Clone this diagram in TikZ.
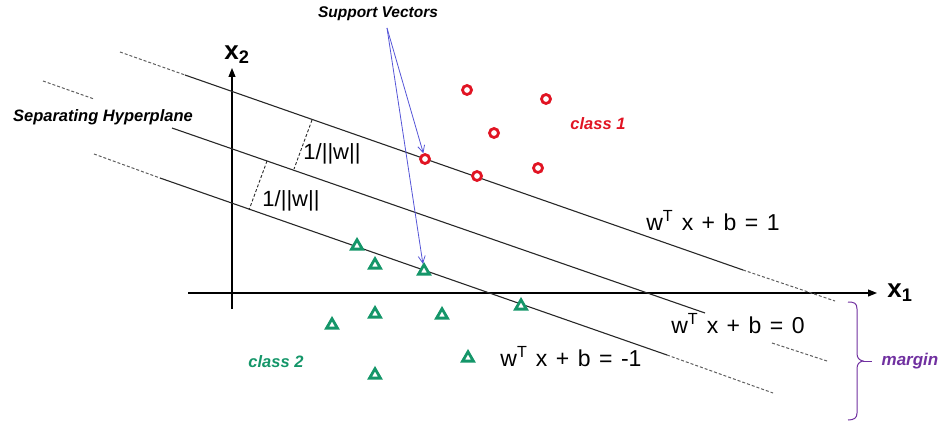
\documentclass[tikz,border=0pt]{standalone}
\usepackage{fontspec}
\setmainfont{Liberation Sans}
\usetikzlibrary{arrows.meta, positioning, shapes.geometric}
\definecolor{svmRed}{RGB}{225,20,35}
\definecolor{svmGreen}{RGB}{20,150,105}
\definecolor{svmBlue}{RGB}{85,85,215}
\definecolor{svmPurple}{RGB}{112,48,160}
\definecolor{lnGray}{RGB}{40,40,40}
\newcommand{\eqSpacing}{\spaceskip 8.5pt\relax}
\tikzset{
  redPt/.style={circle, draw=svmRed, line width=2.8pt, fill=white,
    minimum size=9pt, inner sep=0pt},
  greenPt/.style={regular polygon, regular polygon sides=3, draw=svmGreen,
    line width=2.8pt, fill=white, minimum size=12.5pt, inner sep=0pt},
  plane/.style={draw=lnGray, line width=1.1pt},
  planeDash/.style={draw=lnGray!75, line width=1.0pt, dash pattern=on 3pt off 2pt},
  gapDash/.style={draw=lnGray, line width=0.9pt, dash pattern=on 3pt off 2pt},
  axisArr/.style={-{Triangle[length=9pt,width=7pt]}, line width=1.1pt, draw=black},
  svArr/.style={-{Straight Barb[length=7pt,width=7pt]}, line width=0.8pt, draw=svmBlue},
  braceLn/.style={draw=svmPurple, line width=1.0pt},
  tlabel/.style={font=\fontsize{16.5}{18}\selectfont\bfseries\itshape, inner sep=1pt},
  eqlabel/.style={font=\fontsize{23}{25}\selectfont\eqSpacing, inner sep=1pt},
  wlabel/.style={font=\fontsize{22}{24}\selectfont, inner sep=1pt},
  axlabel/.style={font=\fontsize{26}{28}\selectfont\bfseries, inner sep=1pt},
}

\begin{document}
\begin{tikzpicture}[x=1pt, y=-1pt]
\useasboundingbox (0,0) rectangle (940,425);

%% ── AXES ─────────────────────────────────────────────
\draw[axisArr] (232,309) -- (232,68);
\draw[axisArr] (188,293) -- (877,293);
\node[axlabel] (lx2) at (237,55) {x\textsubscript{2}};
\node[axlabel] (lx1) at (900,293) {x\textsubscript{1}};

%% ── HYPERPLANES ──────────────────────────────────────
% w^T x + b = 1
\draw[planeDash] (120,52) -- (185,75);
\draw[plane] (185,75) -- (743,270);
\draw[planeDash] (743,270) -- (835,301);
% w^T x + b = 0
\draw[planeDash] (43,81) -- (94,99);
\draw[plane] (172,128) -- (705,313);
\draw[planeDash] (772,343) -- (827,361);
% w^T x + b = -1
\draw[planeDash] (94,154) -- (160,178);
\draw[plane] (160,178) -- (667,355);
\draw[planeDash] (667,355) -- (773,393);

% margin widths
\draw[gapDash] (312,120) -- (294,169);
\draw[gapDash] (267,161) -- (249,210);
\node[wlabel] (w1) at (332,154) {1/||w||};
\node[wlabel] (w2) at (291,201) {1/||w||};

\node[eqlabel] (eqP) at (713,221) {w\textsuperscript{T} x + b = 1};
\node[eqlabel] (eqZ) at (738,324) {w\textsuperscript{T} x + b = 0};
\node[eqlabel] (eqN) at (571,357) {w\textsuperscript{T} x + b = -1};

%% ── CLASS 1 ──────────────────────────────────────────
\node[redPt] (c1) at (425,159) {};
\node[redPt] (c2) at (467,90) {};
\node[redPt] (c3) at (546,99) {};
\node[redPt] (c4) at (494,133) {};
\node[redPt] (c5) at (538,168) {};
\node[redPt] (c6) at (477,176) {};
\node[tlabel, text=svmRed] (cls1) at (598,124) {class 1};

%% ── CLASS 2 ──────────────────────────────────────────
\node[greenPt] (t1) at (357,246) {};
\node[greenPt] (t2) at (375,265) {};
\node[greenPt] (t3) at (424,271) {};
\node[greenPt] (t4) at (375,314) {};
\node[greenPt] (t5) at (442,315) {};
\node[greenPt] (t6) at (332,325) {};
\node[greenPt] (t7) at (375,375) {};
\node[greenPt] (t8) at (468,358) {};
\node[greenPt] (t9) at (521,306) {};
\node[tlabel, text=svmGreen] (cls2) at (276,362) {class 2};

%% ── LABELS ───────────────────────────────────────────
\node[tlabel, font=\fontsize{15.5}{17}\selectfont\bfseries\itshape] (sv) at (378,14) {Support Vectors};
\node[tlabel] (sep) at (103,117) {Separating Hyperplane};
\coordinate (svTip) at (387,28);
\draw[svArr] (svTip) -- (c1);
\draw[svArr] (svTip) -- (t3);

%% ── MARGIN BRACE ─────────────────────────────────────
\coordinate (bTip) at (863,361);
\draw[braceLn] (848,302) .. controls (854,302) and (857,303) .. (857,309)
  -- (857,353) .. controls (857,358) and (859,360) .. (bTip)
  .. controls (859,362) and (857,364) .. (857,369)
  -- (857,413) .. controls (857,418) and (854,420) .. (848,420);
\node[tlabel, text=svmPurple, font=\fontsize{17}{19}\selectfont\bfseries\itshape] (mrg) at (910,361) {margin};
\draw[braceLn] (bTip) -- ++(9,0);

\end{tikzpicture}
\end{document}
